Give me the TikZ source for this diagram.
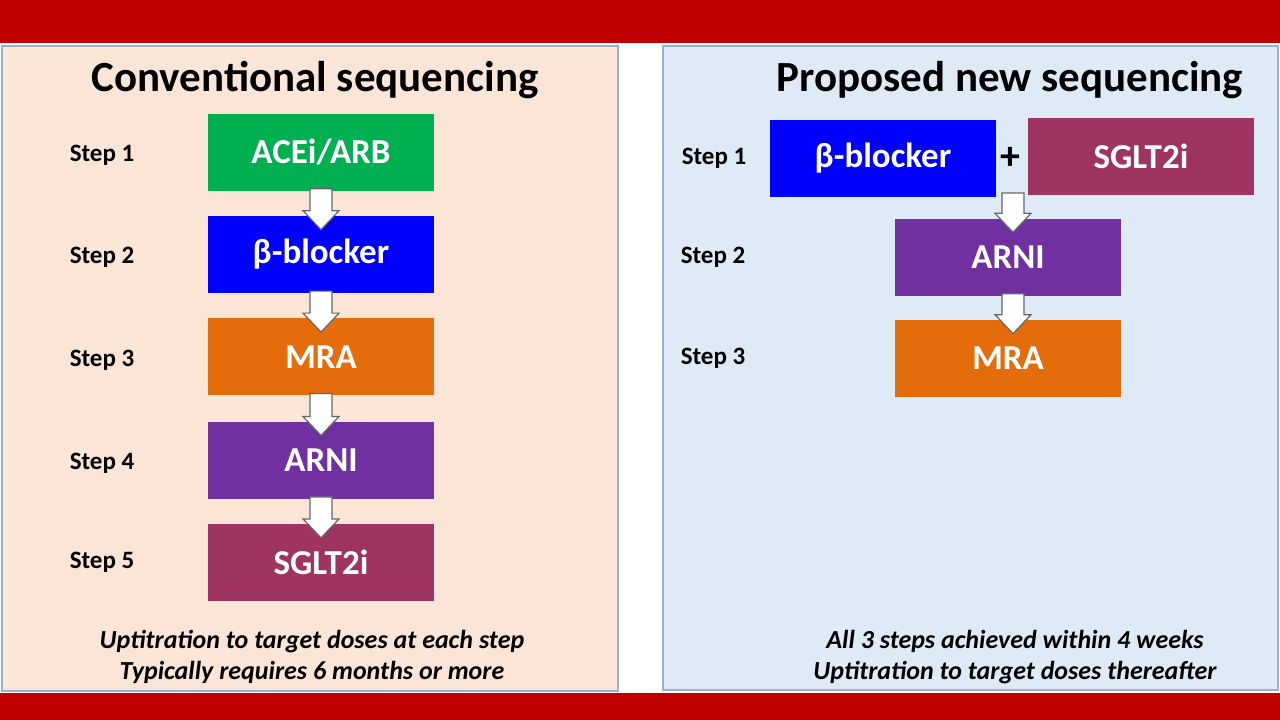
\documentclass[tikz,border=0pt]{standalone}
\usepackage{fontspec}
\setmainfont{Carlito}
\usetikzlibrary{positioning,calc}
\definecolor{bandred}{HTML}{C00000}
\definecolor{peach}{HTML}{FBE5D6}
\definecolor{paleblue}{HTML}{DEEBF7}
\definecolor{panelframe}{HTML}{9DB0CB}
\definecolor{dgreen}{HTML}{00B050}
\definecolor{dblue}{HTML}{0000FF}
\definecolor{dorange}{HTML}{E46C0A}
\definecolor{dpurple}{HTML}{7030A0}
\definecolor{dmaroon}{HTML}{9E3462}
\tikzstyle{dbox}=[rectangle, minimum width=226pt, minimum height=77pt, inner sep=0pt, text=white, font=\fontsize{35}{40}\selectfont\bfseries]
\tikzstyle{steplbl}=[font=\fontsize{25}{30}\selectfont\bfseries]
\tikzstyle{ttl}=[font=\fontsize{43}{50}\selectfont\bfseries]
\tikzstyle{note}=[font=\fontsize{26}{31}\selectfont\bfseries\itshape, align=center]
\tikzstyle{darr}=[draw=gray!80!black, fill=white, line width=1.2pt, to path={let \p1=(\tikztostart), \p2=(\tikztotarget) in (\x1-11pt,\y1+2pt) -- (\x1-11pt,\y2+5pt) -- (\x1-18pt,\y2+5pt) -- (\x1,\y2-14pt) -- (\x1+18pt,\y2+5pt) -- (\x1+11pt,\y2+5pt) -- (\x1+11pt,\y1+2pt) -- cycle}]
\begin{document}
\begin{tikzpicture}[x=1pt,y=-1pt]
\useasboundingbox (0,0) rectangle (1280,720);
\fill[white] (0,0) rectangle (1280,720);
\fill[bandred] (0,0) rectangle (1280,43);
\fill[bandred] (0,693) rectangle (1280,720);
\draw[panelframe, line width=2pt, fill=peach] (2,46) rectangle (618,691);
\draw[panelframe, line width=2pt, fill=paleblue] (663,46) rectangle (1278,690);
% conventional
\node (T1) [ttl] at (315,80) {Conventional sequencing};
\node (ACE) [dbox, fill=dgreen] at (321,152) {ACEi/ARB};
\node (BB) [dbox, fill=dblue, below=25pt of ACE] {β-blocker};
\node (MRA) [dbox, fill=dorange, below=25pt of BB] {MRA};
\node (ARNI) [dbox, fill=dpurple, below=26pt of MRA] {ARNI};
\node (SGLT) [dbox, fill=dmaroon, below=25pt of ARNI] {SGLT2i};
\node (S1) [steplbl, left=70pt of ACE, yshift=-3pt] {Step 1};
\node (S2) [steplbl, left=70pt of BB, yshift=-3pt] {Step 2};
\node (S3) [steplbl, left=70pt of MRA, yshift=-3pt] {Step 3};
\node (S4) [steplbl, left=70pt of ARNI, yshift=-3pt] {Step 4};
\node (S5) [steplbl, left=70pt of SGLT] {Step 5};
 \draw[darr] (ACE.south) to (BB.north);
 \draw[darr] (BB.south) to (MRA.north);
 \draw[darr] (MRA.south) to (ARNI.north);
 \draw[darr] (ARNI.south) to (SGLT.north);
\node (N1) [note] at (312,657) {Uptitration to target doses at each step\\Typically requires 6 months or more};
% proposed
\node (T2) [ttl] at (1010,80) {Proposed new sequencing};
\node (BBN) [dbox, fill=dblue] at (883,158) {β-blocker};
\node (PLUS) [font=\fontsize{40}{44}\selectfont\bfseries, right=1pt of BBN] {+};
\node (SGLTN) [dbox, fill=dmaroon] at (1141,156) {SGLT2i};
\node (ARNIN) [dbox, fill=dpurple] at (1008,257) {ARNI};
\node (MRAN) [dbox, fill=dorange, below=24pt of ARNIN] {MRA};
\node (R1) [steplbl, left=20pt of BBN] {Step 1};
\node (R2) [steplbl, left=146pt of ARNIN] {Step 2};
\node (R3) [steplbl, left=146pt of MRAN] {Step 3};
\coordinate (JOIN) at (1013,195);
 \draw[darr] (JOIN) to (ARNIN.north);
 \draw[darr] (ARNIN.south -| JOIN) to (MRAN.north);
\node (N2) [note] at (1015,657) {All 3 steps achieved within 4 weeks\\Uptitration to target doses thereafter};
\end{tikzpicture}
\end{document}
